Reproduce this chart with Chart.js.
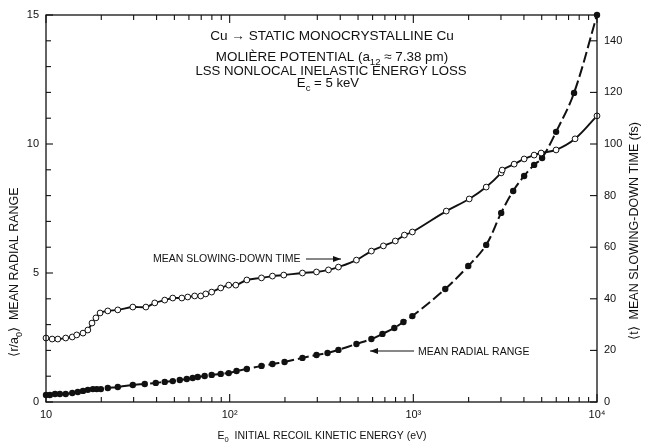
<!DOCTYPE html>
<html><head><meta charset="utf-8">
<script src="https://cdn.jsdelivr.net/npm/chart.js@4"></script>
<style>html,body{margin:0;padding:0;background:#fff}#wrap{width:646px;height:442px}</style>
</head><body><div id="wrap"><canvas id="c" width="646" height="442"></canvas></div>
<script>
// ---- data ----
const energyTime = [10, 10.8, 11.6, 12.8, 13.9, 14.7, 15.9, 16.9, 17.8, 18.7, 19.7, 21.7, 24.6, 29.7, 35.0, 39.1, 44.3, 49.0, 54.9, 59.1, 64.5, 69.6, 74.1, 79.8, 89.4, 98.8, 108, 124, 149, 171, 197, 249, 297, 345, 391, 490, 591, 687, 798, 894, 988, 1511, 2015, 2493, 3008, 3046, 3539, 4012, 4546, 4963, 5987, 7596, 10000];
const slowingTime = [24.8, 24.4, 24.4, 24.8, 25.2, 26.0, 26.7, 27.9, 30.6, 32.6, 34.5, 35.3, 35.7, 36.8, 36.8, 38.4, 39.5, 40.3, 40.3, 40.7, 41.1, 41.1, 41.9, 42.6, 44.2, 45.3, 45.3, 47.3, 48.1, 48.8, 49.2, 50.0, 50.4, 51.2, 52.3, 55.0, 58.5, 60.5, 62.4, 64.7, 65.9, 74.0, 78.7, 83.3, 88.8, 89.9, 92.2, 94.2, 95.7, 96.5, 97.7, 102.0, 110.9];
const energyRange = [10, 10.5, 11.2, 11.9, 12.8, 13.9, 14.9, 15.9, 16.9, 18.0, 18.9, 19.9, 21.7, 24.6, 29.7, 34.5, 39.6, 44.3, 49.0, 53.5, 58.4, 62.9, 67.0, 73.1, 79.8, 89.4, 98.8, 109, 124, 149, 171, 199, 249, 297, 341, 391, 490, 591, 679, 788, 883, 988, 1492, 1991, 2493, 3008, 3496, 4012, 4546, 5024, 5987, 7499, 10000];
const radialRange = [0.27, 0.27, 0.31, 0.31, 0.31, 0.35, 0.39, 0.43, 0.47, 0.50, 0.50, 0.50, 0.54, 0.58, 0.66, 0.70, 0.74, 0.78, 0.81, 0.85, 0.89, 0.93, 0.97, 1.01, 1.05, 1.09, 1.12, 1.20, 1.28, 1.40, 1.47, 1.55, 1.71, 1.82, 1.90, 2.02, 2.25, 2.44, 2.64, 2.87, 3.10, 3.33, 4.38, 5.27, 6.09, 7.33, 8.18, 8.76, 9.19, 9.46, 10.47, 11.98, 15.0];

const xDecades = [10, 100, 1000, 10000];
const xDecadeLabels = ['10', '10\u00B2', '10\u00B3', '10\u2074'];
const xMantissas = [1, 2, 3, 4, 5, 6, 7, 8, 9];
const leftTicks = [0,1,2,3,4,5,6,7,8,9,10,11,12,13,14,15];
const leftLabeled = [0, 5, 10, 15];
const rightTicks = [0, 20, 40, 60, 80, 100, 120, 140];

const FONT = '"Liberation Sans", Arial, Helvetica, sans-serif';
const INK = '#111';

// x tick values (decades and their minor subdivisions)
const xTickValues = [];
xDecades.forEach((d, i) => {
  if (i === xDecades.length - 1) { xTickValues.push(d); return; }
  xMantissas.forEach(m => xTickValues.push(m * d));
});

function drawRich(ctx, parts, x, y, size, align) {
  let w = 0;
  parts.forEach(p => { ctx.font = (p.sub ? size * 0.72 : size) + 'px ' + FONT; p.w = ctx.measureText(p.t).width; w += p.w; });
  let cx = align === 'center' ? x - w / 2 : (align === 'right' ? x - w : x);
  ctx.textAlign = 'left';
  ctx.textBaseline = 'alphabetic';
  parts.forEach(p => {
    ctx.font = (p.sub ? size * 0.72 : size) + 'px ' + FONT;
    ctx.fillText(p.t, cx, y + (p.sub ? size * 0.3 : 0));
    cx += p.w;
  });
}
function arrow(ctx, x1, y1, x2, y2) {
  ctx.beginPath(); ctx.moveTo(x1, y1); ctx.lineTo(x2, y2); ctx.stroke();
  const dir = Math.sign(x2 - x1);
  ctx.beginPath();
  ctx.moveTo(x2, y2); ctx.lineTo(x2 - dir * 8, y2 - 3); ctx.lineTo(x2 - dir * 8, y2 + 3); ctx.closePath(); ctx.fill();
}

const framePlugin = {
  id: 'frame',
  afterDraw(chart) {
    const { ctx, chartArea: a, scales } = chart;
    ctx.save();
    ctx.strokeStyle = INK; ctx.fillStyle = INK; ctx.lineWidth = 1.3;
    ctx.strokeRect(a.left, a.top, a.right - a.left, a.bottom - a.top);
    ctx.lineWidth = 1.1;
    const seg = (x1, y1, x2, y2) => { ctx.beginPath(); ctx.moveTo(x1, y1); ctx.lineTo(x2, y2); ctx.stroke(); };
    // x ticks (bottom and top, inward)
    scales.x.ticks.forEach(t => {
      const px = scales.x.getPixelForValue(t.value);
      const major = xDecades.includes(t.value);
      const len = major ? 8 : 5;
      seg(px, a.bottom, px, a.bottom - len);
      seg(px, a.top, px, a.top + len);
    });
    // left ticks
    scales.y.ticks.forEach(t => {
      const py = scales.y.getPixelForValue(t.value);
      const len = leftLabeled.includes(t.value) ? 7 : 5;
      seg(a.left, py, a.left + len, py);
    });
    // right ticks
    scales.y2.ticks.forEach(t => {
      const py = scales.y2.getPixelForValue(t.value);
      seg(a.right, py, a.right - 7, py);
    });

    // header text
    ctx.fillStyle = INK;
    drawRich(ctx, [{t: 'Cu \u2192 STATIC MONOCRYSTALLINE Cu'}], 332, 40, 13.6, 'center');
    drawRich(ctx, [{t: 'MOLI\u00C8RE POTENTIAL (a'}, {t: '12', sub: true}, {t: ' \u2248 7.38 pm)'}], 332, 61, 13.4, 'center');
    drawRich(ctx, [{t: 'LSS NONLOCAL INELASTIC ENERGY LOSS'}], 331, 75, 13.2, 'center');
    drawRich(ctx, [{t: 'E'}, {t: 'c', sub: true}, {t: ' = 5 keV'}], 328, 87, 13.2, 'center');

    // curve annotations
    drawRich(ctx, [{t: 'MEAN SLOWING-DOWN TIME'}], 153, 262, 10.5, 'left');
    ctx.lineWidth = 1.2;
    arrow(ctx, 306, 259, 341, 259);
    drawRich(ctx, [{t: 'MEAN RADIAL RANGE'}], 418, 355, 10.5, 'left');
    arrow(ctx, 414, 351, 370, 351);

    // axis titles
    drawRich(ctx, [{t: 'E'}, {t: '0', sub: true}, {t: '  INITIAL RECOIL KINETIC ENERGY (eV)'}], 322, 439, 10.5, 'center');
    ctx.save();
    ctx.translate(14, 272); ctx.rotate(-Math.PI / 2);
    drawRich(ctx, [{t: '\u27E8r/a'}, {t: '0', sub: true}, {t: '\u27E9  MEAN RADIAL RANGE'}], 0, 4, 12.5, 'center');
    ctx.restore();
    ctx.save();
    ctx.translate(634, 231); ctx.rotate(-Math.PI / 2);
    drawRich(ctx, [{t: '\u27E8t\u27E9  MEAN SLOWING-DOWN TIME (fs)'}], 0, 4, 12.5, 'center');
    ctx.restore();
    ctx.restore();
  }
};

const pointsT = energyTime.map((e, i) => ({x: e, y: slowingTime[i]}));
const pointsR = energyRange.map((e, i) => ({x: e, y: radialRange[i]}));

new Chart(document.getElementById('c'), {
  type: 'line',
  data: {
    datasets: [
      {
        label: 'Mean slowing-down time', data: pointsT, yAxisID: 'y2',
        borderColor: INK, borderWidth: 1.9, tension: 0.35,
        pointRadius: 2.9, pointBackgroundColor: '#fff', pointBorderColor: INK, pointBorderWidth: 1,
        clip: false, fill: false
      },
      {
        label: 'Mean radial range', data: pointsR, yAxisID: 'y',
        borderColor: INK, borderWidth: 2, tension: 0.35, borderDash: [11, 4],
        pointRadius: 3.2, pointBackgroundColor: INK, pointBorderColor: INK, pointBorderWidth: 0,
        clip: false, fill: false
      }
    ]
  },
  options: {
    responsive: false, animation: false, devicePixelRatio: 1,
    layout: {padding: {top: 15, left: 0, right: 0, bottom: 0}},
    plugins: {legend: {display: false}, tooltip: {enabled: false}, title: {display: false}},
    scales: {
      x: {
        type: 'logarithmic', min: 10, max: 10000,
        afterBuildTicks: s => { s.ticks = xTickValues.map(v => ({value: v})); },
        afterFit: s => { s.height = 40; },
        grid: {display: false, drawTicks: false}, border: {display: false},
        ticks: {
          autoSkip: false, maxRotation: 0, padding: 6, color: INK,
          font: {family: FONT, size: 11},
          callback: v => { const i = xDecades.indexOf(v); return i >= 0 ? xDecadeLabels[i] : ''; }
        }
      },
      y: {
        type: 'linear', position: 'left', min: 0, max: 15,
        afterBuildTicks: s => { s.ticks = leftTicks.map(v => ({value: v})); },
        afterFit: s => { s.width = 46; },
        grid: {display: false, drawTicks: false}, border: {display: false},
        ticks: {
          autoSkip: false, padding: 7, color: INK, font: {family: FONT, size: 11},
          callback: v => leftLabeled.includes(v) ? String(v) : ''
        }
      },
      y2: {
        type: 'linear', position: 'right', min: 0, max: 150,
        afterBuildTicks: s => { s.ticks = rightTicks.map(v => ({value: v})); },
        afterFit: s => { s.width = 49; },
        grid: {display: false, drawTicks: false}, border: {display: false},
        ticks: {autoSkip: false, padding: 7, color: INK, font: {family: FONT, size: 11}}
      }
    }
  },
  plugins: [framePlugin]
});
</script>
</body></html>
